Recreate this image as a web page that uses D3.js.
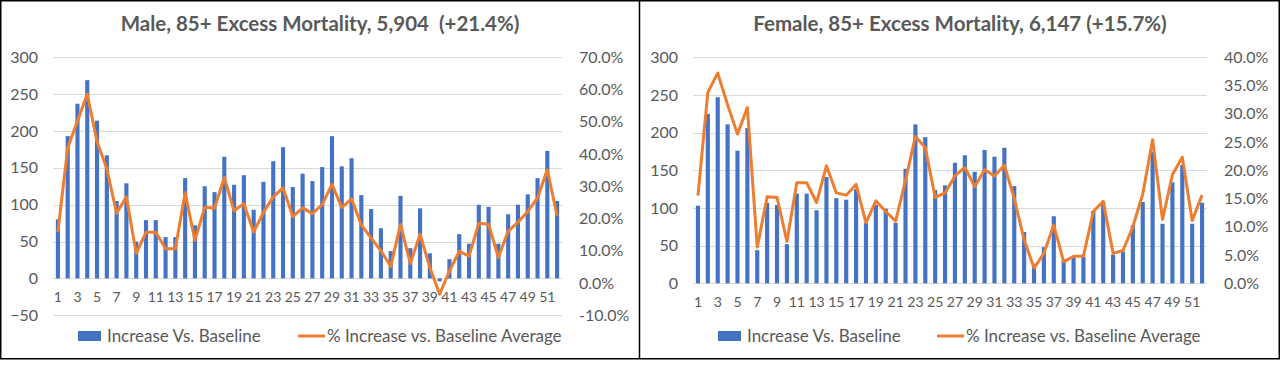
<!DOCTYPE html>
<html>
<head>
<meta charset="utf-8">
<script src="https://cdn.jsdelivr.net/npm/d3@7"></script>
<style>
	body { margin: 0; background: #fff; }
	text { font-family: Lato, "Open Sans", Arial, sans-serif; }
</style>
</head>
<body>
<div id="chart"></div>
<script>
var w = 1280;
var h = 373;

// week numbers 1..52
var weeks = d3.range(1, 53);

// Male 85+: increase vs baseline (deaths) and % increase
var maleIncrease = [80, 193, 237, 269, 214, 167, 105, 129, 50, 79,
	79, 56, 56, 136, 72, 125, 117, 165, 127, 140,
	93, 131, 159, 178, 124, 142, 132, 151, 193, 152,
	163, 113, 94, 68, 37, 112, 41, 95, 34, -4,
	26, 60, 47, 100, 97, 47, 87, 100, 114, 136,
	173, 105];
var malePct = [15.8, 41.9, 50.2, 58.6, 43.8, 35.4, 21.6, 26.7, 9.2, 15.7,
	15.7, 10.6, 10.6, 28.0, 13.2, 23.5, 23.2, 32.7, 22.4, 24.6,
	15.8, 21.9, 26.7, 29.5, 20.6, 23.3, 21.5, 24.3, 30.6, 23.4,
	26.1, 18.0, 13.9, 10.0, 5.1, 18.2, 6.0, 15.1, 4.8, -3.5,
	3.7, 9.8, 8.3, 18.5, 18.2, 7.9, 16.1, 18.8, 22.2, 26.4,
	35.1, 20.8];

// Female 85+
var femaleIncrease = [103, 225, 247, 211, 176, 206, 44, 107, 104, 52,
	119, 119, 97, 141, 113, 111, 125, 80, 104, 99,
	80, 152, 211, 194, 124, 130, 160, 170, 148, 177,
	168, 180, 129, 68, 26, 48, 89, 31, 35, 35,
	96, 108, 38, 42, 77, 108, 174, 79, 134, 157,
	79, 107];
var femalePct = [15.5, 33.8, 37.2, 31.6, 26.4, 31.1, 6.4, 15.3, 15.2, 7.4,
	17.8, 17.8, 14.3, 20.8, 16.0, 15.6, 17.5, 10.7, 14.6, 12.7,
	11.0, 18.2, 26.0, 24.0, 15.2, 16.0, 19.0, 20.5, 17.1, 20.1,
	19.0, 20.9, 15.0, 7.7, 2.7, 5.3, 10.3, 3.8, 4.8, 4.8,
	12.7, 14.5, 5.3, 5.8, 10.0, 15.8, 25.4, 11.3, 19.2, 22.3,
	11.1, 15.6];

// axis ticks
var maleLeftTicks = [-50, 0, 50, 100, 150, 200, 250, 300];
var maleRightTicks = [-10, 0, 10, 20, 30, 40, 50, 60, 70];
var femaleLeftTicks = [0, 50, 100, 150, 200, 250, 300];
var femaleRightTicks = [0, 5, 10, 15, 20, 25, 30, 35, 40];

var seriesNames = ["Increase Vs. Baseline", "% Increase vs. Baseline Average"];
var titles = ["Male, 85+ Excess Mortality, 5,904  (+21.4%)",
	"Female, 85+ Excess Mortality, 6,147 (+15.7%)"];

var blue = "#4472C4";
var orange = "#ED7D31";
var grey = "#595959";

var svg = d3.select("#chart")
	.append("svg")
	.attr("width", w)
	.attr("height", h);

svg.append("rect")
	.attr("width", w)
	.attr("height", h)
	.attr("fill", "#fff");

var panels = [
	{ x0: 0, left: 53, right: 562, top: 57.3, bottom: 315.2,
	  inc: maleIncrease, pct: malePct, lt: maleLeftTicks, rt: maleRightTicks,
	  ldom: [-50, 300], rdom: [-10, 70], title: titles[0],
	  legBar: 78, legLine: 298 },
	{ x0: 640, left: 693, right: 1207, top: 57.3, bottom: 283.3,
	  inc: femaleIncrease, pct: femalePct, lt: femaleLeftTicks, rt: femaleRightTicks,
	  ldom: [0, 300], rdom: [0, 40], title: titles[1],
	  legBar: 718, legLine: 937 }
];

panels.forEach(function(p) {
	var g = svg.append("g");

	var xScale = d3.scaleBand()
		.domain(weeks)
		.range([p.left, p.right])
		.paddingInner(0.58)
		.paddingOuter(0.29);

	var yScale = d3.scaleLinear()
		.domain(p.ldom)
		.range([p.bottom, p.top]);

	var y2Scale = d3.scaleLinear()
		.domain(p.rdom)
		.range([p.bottom, p.top]);

	//gridlines
	g.selectAll(".grid")
		.data(p.lt)
		.enter()
		.append("line")
		.attr("x1", p.left)
		.attr("x2", p.right)
		.attr("y1", function(d) { return Math.round(yScale(d)) + 0.5; })
		.attr("y2", function(d) { return Math.round(yScale(d)) + 0.5; })
		.attr("stroke", "#d9d9d9")
		.attr("stroke-width", 1);

	//left axis
	var yAxis = d3.axisLeft(yScale)
		.tickValues(p.lt)
		.tickSize(0)
		.tickPadding(0);
	var ya = g.append("g")
		.attr("transform", "translate(" + (p.left - 15) + ",0)")
		.call(yAxis);
	ya.select(".domain").remove();
	ya.selectAll("text")
		.attr("fill", grey)
		.attr("font-size", "16px");

	//right axis
	var y2Axis = d3.axisRight(y2Scale)
		.tickValues(p.rt)
		.tickSize(0)
		.tickPadding(0)
		.tickFormat(function(d) { return d.toFixed(1) + "%"; });
	var ya2 = g.append("g")
		.attr("transform", "translate(" + (p.right + 17) + ",0)")
		.call(y2Axis);
	ya2.select(".domain").remove();
	ya2.selectAll("text")
		.attr("fill", grey)
		.attr("font-size", "16px");

	//bars
	var data = weeks.map(function(wk, i) { return { wk: wk, inc: p.inc[i], pct: p.pct[i] }; });
	g.selectAll(".bar")
		.data(data)
		.enter()
		.append("rect")
		.attr("x", function(d) { return xScale(d.wk); })
		.attr("width", xScale.bandwidth())
		.attr("y", function(d) { return yScale(Math.max(0, d.inc)); })
		.attr("height", function(d) { return Math.abs(yScale(d.inc) - yScale(0)); })
		.attr("fill", blue);

	//x labels (odd weeks)
	var xAxis = d3.axisBottom(xScale)
		.tickValues(weeks.filter(function(d) { return d % 2 == 1; }))
		.tickSize(0)
		.tickPadding(0);
	var xa = g.append("g")
		.attr("transform", "translate(0," + (yScale(0) + 14) + ")")
		.call(xAxis);
	xa.select(".domain").remove();
	xa.selectAll("text")
		.attr("fill", grey)
		.attr("font-size", "14px");

	//line
	var line = d3.line()
		.x(function(d) { return xScale(d.wk) + xScale.bandwidth() / 2; })
		.y(function(d) { return y2Scale(d.pct); });
	g.append("path")
		.datum(data)
		.attr("d", line)
		.attr("fill", "none")
		.attr("stroke", orange)
		.attr("stroke-width", 3)
		.attr("stroke-linejoin", "round");

	//title
	g.append("text")
		.text(p.title)
		.attr("x", p.x0 + 320)
		.attr("y", 31)
		.attr("text-anchor", "middle")
		.attr("font-size", "20.5px")
		.attr("font-weight", "bold")
		.attr("fill", grey)
		.style("white-space", "pre");

	//legend
	g.append("rect")
		.attr("x", p.legBar)
		.attr("y", 331)
		.attr("width", 23)
		.attr("height", 10)
		.attr("fill", blue);
	g.append("text")
		.text(seriesNames[0])
		.attr("x", p.legBar + 29)
		.attr("y", 342)
		.attr("font-size", "17px")
		.attr("fill", grey);
	g.append("line")
		.attr("x1", p.legLine)
		.attr("x2", p.legLine + 27)
		.attr("y1", 336)
		.attr("y2", 336)
		.attr("stroke", orange)
		.attr("stroke-width", 3);
	g.append("text")
		.text(seriesNames[1])
		.attr("x", p.legLine + 29)
		.attr("y", 342)
		.attr("font-size", "17px")
		.attr("fill", grey);
});

//frame around both charts
svg.append("rect")
	.attr("x", 0.75)
	.attr("y", 0.75)
	.attr("width", w - 1.5)
	.attr("height", 358)
	.attr("fill", "none")
	.attr("stroke", "#000")
	.attr("stroke-width", 1.5);
svg.append("line")
	.attr("x1", 639.5)
	.attr("x2", 639.5)
	.attr("y1", 0)
	.attr("y2", 359)
	.attr("stroke", "#000")
	.attr("stroke-width", 1.5);
</script>
</body>
</html>
